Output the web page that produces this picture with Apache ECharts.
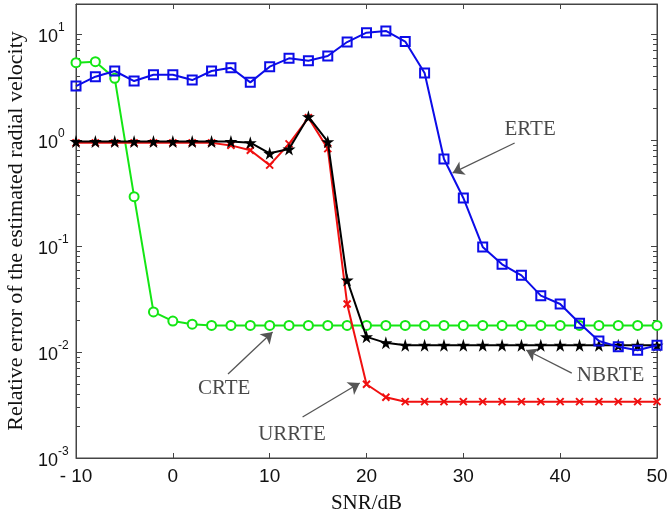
<!DOCTYPE html>
<html>
<head>
<meta charset="utf-8">
<script src="https://cdn.jsdelivr.net/npm/echarts@6/dist/echarts.min.js"></script>
<style>html,body{margin:0;padding:0;background:#fff}#c{width:670px;height:514px}</style>
</head>
<body>
<div id="c"></div>
<script>
const snr = [-10,-8,-6,-4,-2,0,2,4,6,8,10,12,14,16,18,20,22,24,26,28,30,32,34,36,38,40,42,44,46,48,50];
const erte = [3.23,3.96,4.48,3.6,4.13,4.13,3.68,4.48,4.81,3.5,4.92,5.9,5.6,6.2,8.4,10.3,10.7,8.5,4.29,0.662,0.284,0.098,0.0672,0.0529,0.034,0.0284,0.0187,0.0127,0.0112,0.0104,0.0116];
const crte = [5.36,5.48,3.82,0.292,0.0239,0.0196,0.0183,0.0178,0.0178,0.0178,0.0178,0.0178,0.0178,0.0178,0.0178,0.0178,0.0178,0.0178,0.0178,0.0178,0.0178,0.0178,0.0178,0.0178,0.0178,0.0178,0.0178,0.0178,0.0178,0.0178,0.0178];
const nbrte = [0.97,0.97,0.97,0.97,0.97,0.97,0.97,0.97,0.97,0.944,0.749,0.823,1.66,0.964,0.0478,0.0139,0.0122,0.0116,0.0116,0.0116,0.0116,0.0116,0.0116,0.0116,0.0116,0.0116,0.0116,0.0116,0.0116,0.0116,0.0116];
const urrte = [0.94,0.94,0.94,0.94,0.94,0.94,0.94,0.94,0.89,0.80,0.58,0.92,1.62,0.83,0.0284,0.00496,0.00374,0.0034,0.0034,0.0034,0.0034,0.0034,0.0034,0.0034,0.0034,0.0034,0.0034,0.0034,0.0034,0.0034,0.0034];
const xTicks = [-10,0,10,20,30,40,50];
const annoNames = ['ERTE','CRTE','URRTE','NBRTE'];
const annoText = [[36.9,1.27],[5.3,0.00448],[12.3,0.00168],[45.2,0.00594]];
const arrowTail = [[35.3,0.937],[5.7,0.0062],[13.4,0.00244],[41.2,0.00633]];
const arrowHead = [[28.9,0.489],[10.3,0.01545],[19.3,0.0051],[36.5,0.01044]];

const XMIN = -10, XMAX = 50, YMIN = 0.001, YMAX = 19.2;
const minorVals = [];
for (let e = -3; e <= 1; e++) for (let m = 2; m <= 9; m++) { const v = m * Math.pow(10, e); if (v < YMAX) minorVals.push([XMIN, v]); }

const axisColor = '#444';
const pair = (arr) => snr.map((x, i) => [x, arr[i]]);
const yFmt = (v) => {
  const e = Math.round(Math.log10(v));
  if (Math.abs(v - Math.pow(10, e)) / v > 1e-6) return '';
  return '{b|10}{e|' + e + '}';
};
const ySup = {
  b: { fontSize: 18, fontFamily: 'Liberation Sans', color: '#111', verticalAlign: 'bottom', lineHeight: 24 },
  e: { fontSize: 12, fontFamily: 'Liberation Sans', color: '#111', verticalAlign: 'top', lineHeight: 24 }
};
const star = 'path://M50,0 L61,35 L98,35 L68,57 L79,91 L50,70 L21,91 L32,57 L2,35 L39,35 Z';
const cross = 'path://M0,0 L10,10 M10,0 L0,10';

const chart = echarts.init(document.getElementById('c'), null, { renderer: 'canvas' });
chart.setOption({
  animation: false,
  backgroundColor: '#fff',
  grid: { left: 76, right: 13, top: 4, bottom: 56, show: true, borderColor: axisColor, borderWidth: 1, backgroundColor: 'transparent', containLabel: false, outerBoundsMode: 'none' },
  xAxis: [{
    type: 'value', min: XMIN, max: XMAX, interval: 10, position: 'bottom',
    name: 'SNR/dB', nameLocation: 'middle', nameGap: 35,
    nameTextStyle: { fontFamily: 'Liberation Serif', fontSize: 21, color: '#111' },
    axisLine: { show: true, onZero: false, lineStyle: { color: axisColor } },
    axisTick: { show: true, inside: true, length: 5, lineStyle: { color: axisColor } },
    axisLabel: { margin: 9, fontFamily: 'Liberation Sans', fontSize: 19, color: '#111', formatter: (v) => v === -10 ? '- 10' : String(v) },
    splitLine: { show: false }
  }, {
    type: 'value', min: XMIN, max: XMAX, interval: 10, position: 'top',
    axisLine: { show: true, onZero: false, lineStyle: { color: axisColor } },
    axisTick: { show: true, inside: true, length: 5, lineStyle: { color: axisColor } },
    axisLabel: { show: false }, splitLine: { show: false }
  }],
  yAxis: [{
    type: 'log', logBase: 10, min: YMIN, max: YMAX, position: 'left',
    name: 'Relative error of the estimated radial velocity', nameLocation: 'middle', nameGap: 44,
    nameTextStyle: { fontFamily: 'Liberation Serif', fontSize: 22, color: '#111' },
    axisLine: { show: true, onZero: false, lineStyle: { color: axisColor } },
    axisTick: { show: true, inside: true, length: 6, lineStyle: { color: axisColor } },
    axisLabel: { margin: 38, align: 'left', formatter: yFmt, rich: ySup },
    splitLine: { show: false }, minorTick: { show: false }
  }, {
    type: 'log', logBase: 10, min: YMIN, max: YMAX, position: 'right',
    axisLine: { show: true, onZero: false, lineStyle: { color: axisColor } },
    axisTick: { show: true, inside: true, length: 6, lineStyle: { color: axisColor } },
    axisLabel: { show: false }, splitLine: { show: false }
  }],
  series: [
    {
      type: 'custom', coordinateSystem: 'cartesian2d', silent: true, z: 1,
      data: minorVals,
      renderItem: (params, api) => {
        const l = api.coord([XMIN, api.value(1)]);
        const r = api.coord([XMAX, api.value(1)]);
        const st = { stroke: axisColor, lineWidth: 1 };
        return { type: 'group', children: [
          { type: 'line', shape: { x1: l[0], y1: Math.round(l[1]) + 0.5, x2: l[0] + 4, y2: Math.round(l[1]) + 0.5 }, style: st },
          { type: 'line', shape: { x1: r[0] - 4, y1: Math.round(r[1]) + 0.5, x2: r[0], y2: Math.round(r[1]) + 0.5 }, style: st }
        ] };
      }
    },
    {
      name: 'CRTE', type: 'line', data: pair(crte), z: 3,
      symbol: 'circle', symbolSize: 9, showAllSymbol: true,
      lineStyle: { color: '#14e614', width: 2 },
      itemStyle: { color: '#fff', borderColor: '#14e614', borderWidth: 2 }
    },
    {
      name: 'URRTE', type: 'line', data: pair(urrte), z: 4,
      symbol: cross, symbolSize: 7, showAllSymbol: true,
      lineStyle: { color: '#f01010', width: 2 },
      itemStyle: { color: '#f01010', borderColor: '#f01010', borderWidth: 2 }
    },
    {
      name: 'NBRTE', type: 'line', data: pair(nbrte), z: 5,
      symbol: star, symbolSize: 13, showAllSymbol: true,
      lineStyle: { color: '#000', width: 2 },
      itemStyle: { color: '#000', borderColor: '#000', borderWidth: 0 }
    },
    {
      name: 'ERTE', type: 'line', data: pair(erte), z: 6,
      symbol: 'rect', symbolSize: 9, showAllSymbol: true,
      lineStyle: { color: '#0c0ce8', width: 2 },
      itemStyle: { color: 'rgba(255,255,255,0)', borderColor: '#0c0ce8', borderWidth: 2 }
    },
    {
      name: 'annotations', type: 'scatter', z: 8, silent: true,
      symbolSize: 1, itemStyle: { color: 'rgba(0,0,0,0)' },
      data: annoNames.map((n, i) => ({ name: n, value: annoText[i] })),
      label: { show: true, position: 'inside', formatter: (p) => p.name, fontFamily: 'Liberation Serif', fontSize: 21, color: '#1a1a1a' },
      markLine: {
        silent: true, symbol: ['none', 'arrow'], symbolSize: 11, symbolKeepAspect: true,
        label: { show: false },
        lineStyle: { color: '#555', width: 1.3, type: 'solid' },
        itemStyle: { color: '#555' },
        data: arrowTail.map((t, i) => [{ coord: t }, { coord: arrowHead[i] }])
      }
    }
  ]
});
</script>
</body>
</html>
